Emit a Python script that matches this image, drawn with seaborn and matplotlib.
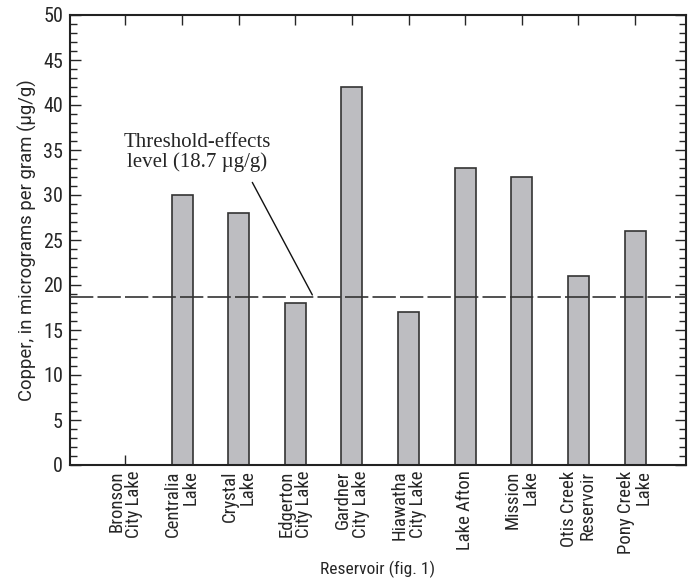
import matplotlib
matplotlib.use("Agg")
import matplotlib.pyplot as plt
import matplotlib.font_manager as fm
import seaborn as sns
import pandas as pd
from matplotlib.ticker import MultipleLocator

# data
reservoirs = ["Bronson\nCity Lake", "Centralia\nLake", "Crystal\nLake", "Edgerton\nCity Lake",
              "Gardner\nCity Lake", "Hiawatha\nCity Lake", "Lake Afton", "Mission\nLake",
              "Otis Creek\nReservoir", "Pony Creek\nLake"]
copper = [0, 30, 28, 18, 42, 17, 33, 32, 21, 26]
threshold = 18.7

df = pd.DataFrame({"reservoir": reservoirs, "copper": copper})


def pick_font(names):
    for n in names:
        try:
            fm.findfont(fm.FontProperties(family=n), fallback_to_default=False)
            return n
        except Exception:
            pass
    return "DejaVu Sans"


sans = pick_font(["Liberation Sans Narrow", "Roboto Condensed", "Liberation Sans"])
regular = pick_font(["Roboto", "Liberation Sans"])

sns.set_style("ticks")
plt.rcParams['font.family'] = [sans, 'DejaVu Sans']

fig = plt.figure(figsize=(6.88, 5.82), dpi=100)
ax = fig.add_axes([70 / 688, 1 - 465 / 582, 616 / 688, 450 / 582])

sns.barplot(data=df, x="reservoir", y="copper", ax=ax, color="#bdbdc1",
            saturation=1, width=0.37, edgecolor="#333333", linewidth=1.2)

ax.axhline(threshold, color="#333333", lw=1.2, dashes=(14, 2.5), zorder=3)

ax.set_xlim(-0.98, 9.9)
ax.set_ylim(0, 50)
ax.yaxis.set_major_locator(MultipleLocator(5))
ax.yaxis.set_minor_locator(MultipleLocator(1))
ax.tick_params(axis="y", which="major", direction="in", length=8, width=1, right=True,
               labelsize=14.5, pad=5)
ax.tick_params(axis="y", which="minor", direction="in", length=5, width=1, right=True)
ax.tick_params(axis="x", which="major", direction="in", length=7, width=1, top=True,
               labelsize=13.5, pad=4, labelrotation=90)
for lbl in ax.get_xticklabels():
    lbl.set_multialignment("right")
    lbl.set_linespacing(1.0)

for s in ax.spines.values():
    s.set_linewidth(1.5)
    s.set_color("#222222")

ax.set_xlabel("Reservoir (fig. 1)", fontsize=12.5, labelpad=5)
ax.set_ylabel("Copper, in micrograms per gram (µg/g)", fontsize=13.3, labelpad=4,
              family=[regular, 'DejaVu Sans'])

ax.text(1.26, 34.7, "Threshold-effects\nlevel (18.7 µg/g)", fontsize=15,
        family="Liberation Serif", ha="center", va="center", linespacing=1.05)
ax.annotate("", xy=(3.3, 18.9), xytext=(2.24, 31.4),
            arrowprops=dict(arrowstyle="-", color="#111111", lw=1, shrinkA=0, shrinkB=0))

fig.savefig("out.png", dpi=100)
